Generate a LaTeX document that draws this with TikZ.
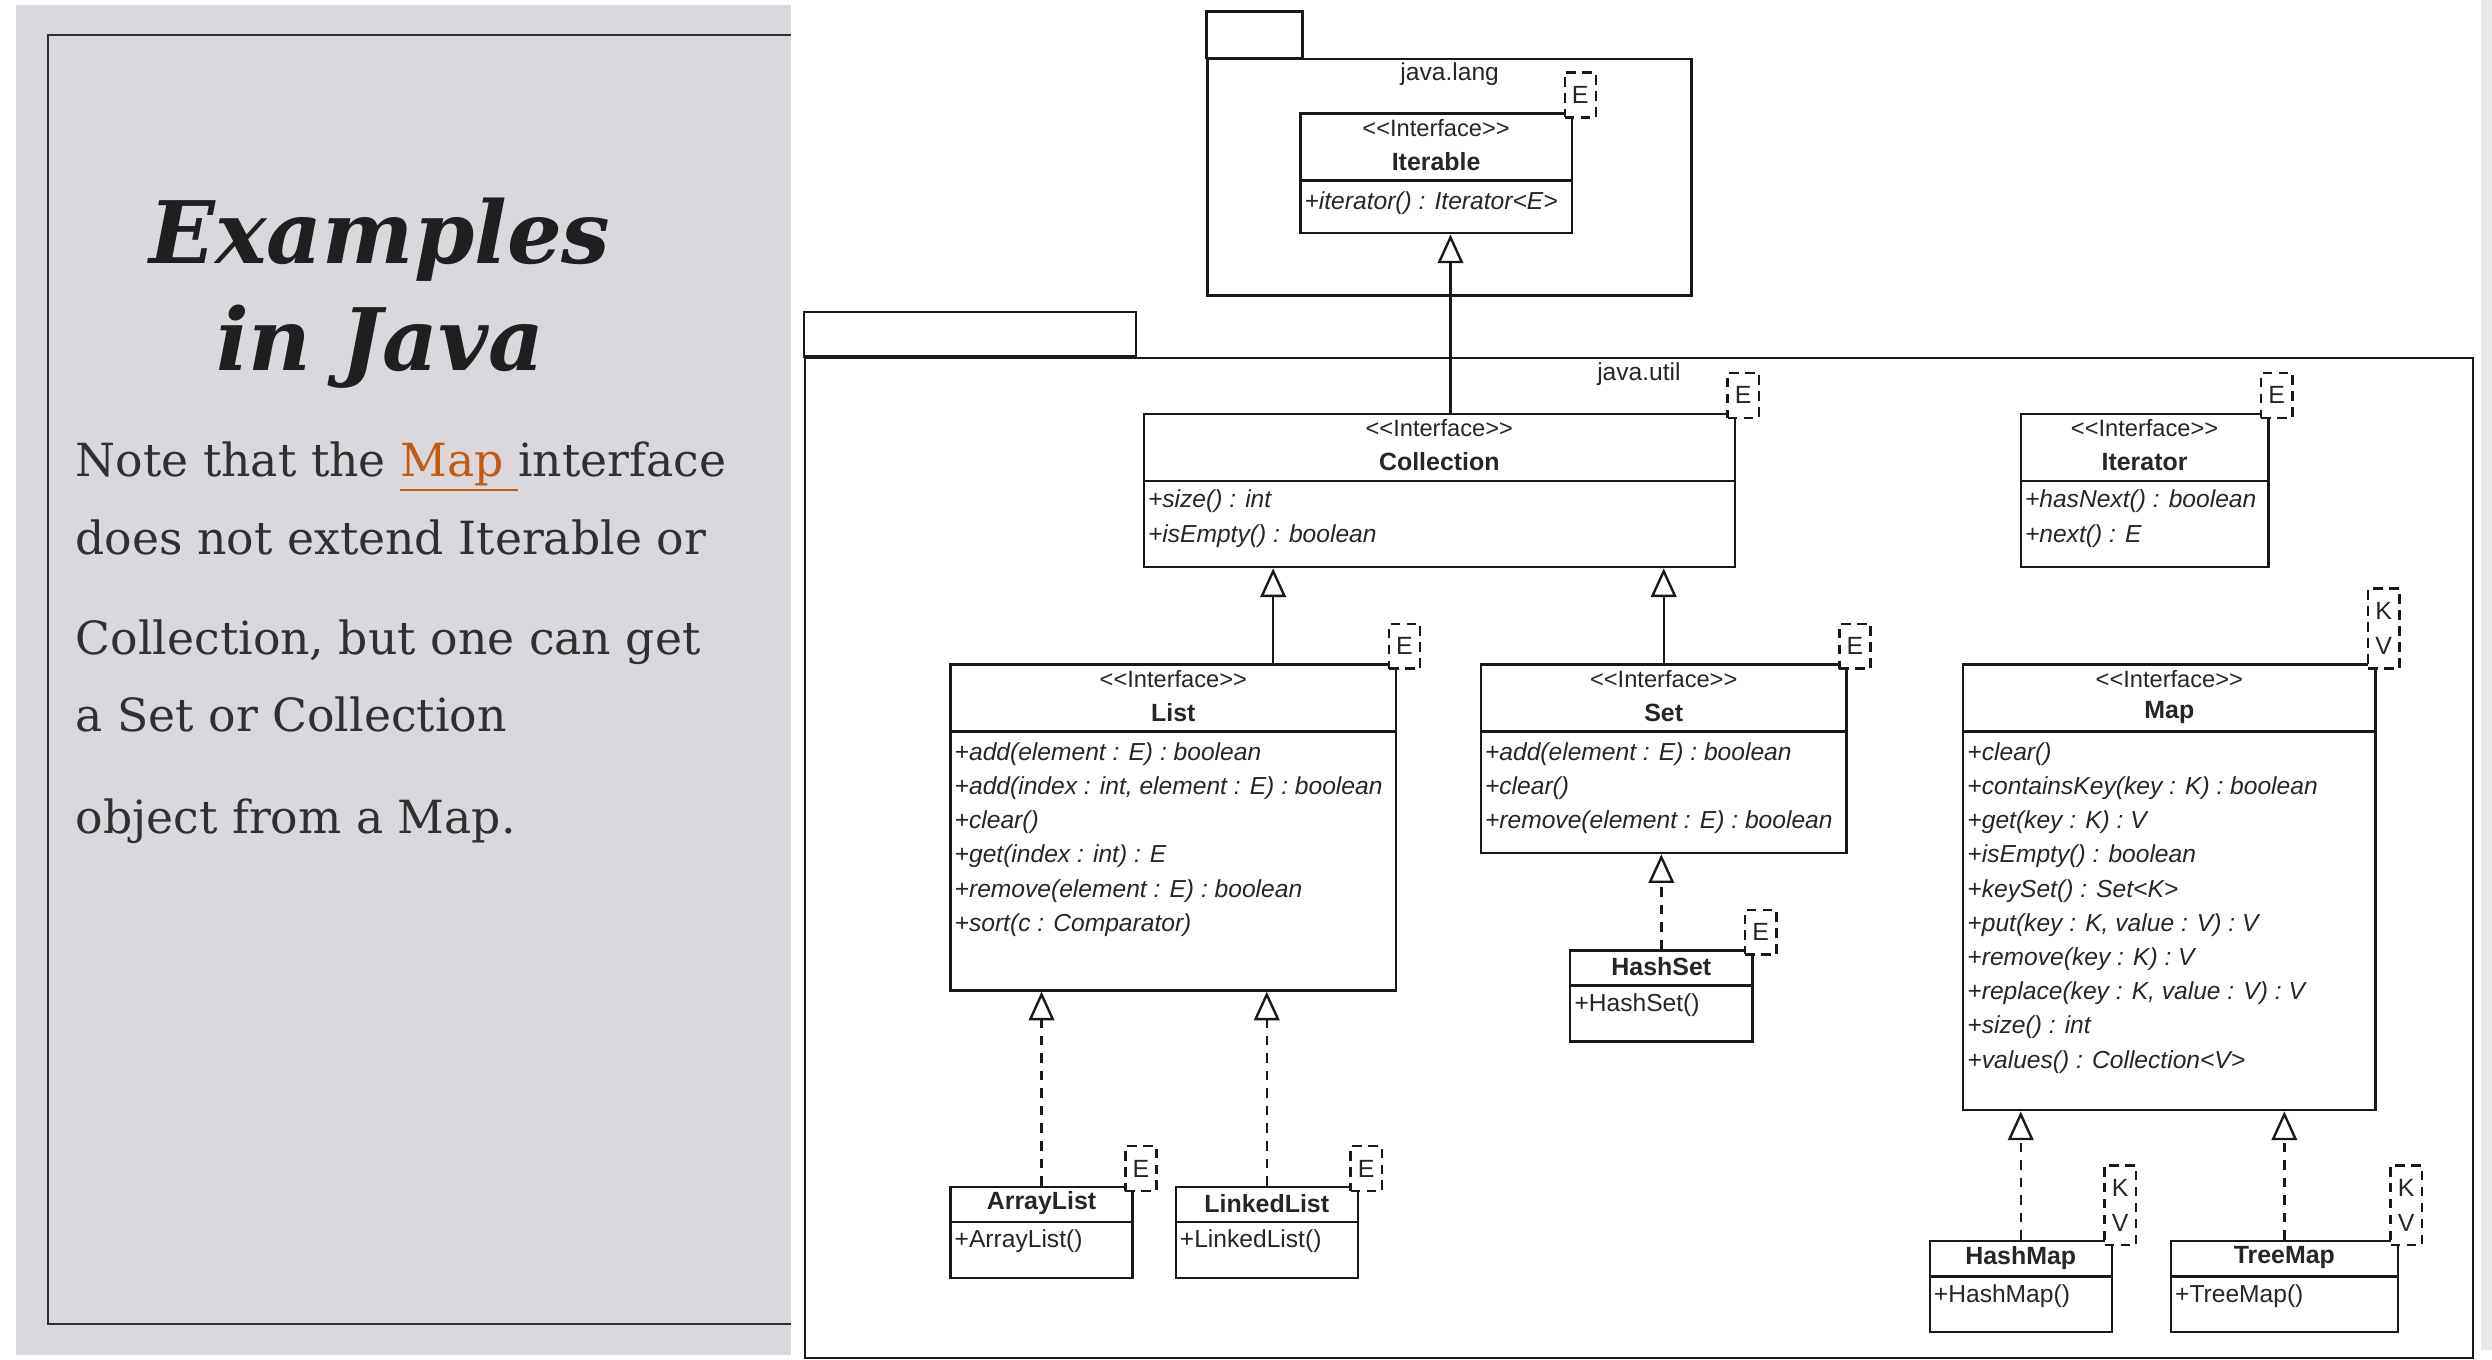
\documentclass[tikz,border=0pt]{standalone}
\usepackage{fontspec}
\setmainfont{DejaVu Serif}
\newfontfamily\umlfont{Liberation Sans}
\usepackage{xcolor}
\usetikzlibrary{
  arrows.meta,
  fit,
  calc,
  positioning}

\definecolor{panelgray}{RGB}{218,216,221}
\definecolor{inkgray}{RGB}{48,48,48}
\definecolor{maporange}{RGB}{197,90,17}

\newcommand\stereo{\textless\textless Interface\textgreater\textgreater}

\tikzset{
  uml/.style={inner sep=0pt, text=black!85, font=\umlfont\fontsize{7.7}{9}\selectfont},
  classline/.style={line width=0.75pt, black!90},
  classbox/.style={classline, draw, fill=white, inner sep=0pt},
  stereotype/.style={uml, font=\umlfont\fontsize{7.4}{9}\selectfont},
  cname/.style={uml, font=\umlfont\bfseries\fontsize{7.8}{9}\selectfont},
  meth/.style={uml, anchor=west, font=\umlfont\itshape\fontsize{7.7}{9}\selectfont},
  ctor/.style={uml, anchor=west},
  tparam/.style={classbox, dash pattern=on 3pt off 2pt, anchor=south west,
    uml, align=center, minimum width=9.75pt, minimum height=14pt,
    font=\umlfont\fontsize{7.8}{11}\selectfont},
  inherit/.style={classline, -{Triangle[open, width=8pt, length=9pt]}},
  realize/.style={inherit, dash pattern=on 3pt off 2.5pt},
  title/.style={inner sep=0pt, text=black!88, font=\bfseries\itshape\fontsize{27}{30}\selectfont},
  note/.style={inner sep=0pt, anchor=base west, text=inkgray, font=\fontsize{14.3}{17}\selectfont}
}

% interface box: node, title, x1, y1, x2, y2
\newcommand\umliface[6]{%
  \node[classbox, fit={(#3,#4) (#5,#6)}] (#1) {};
  \draw[classline] (#3,#4+42) -- (#5,#4+42);
  \node[stereotype] (#1s) at ($(#1.north)+(0,10)$) {\stereo};
  \node[cname] (#1n) at ($(#1.north)+(0,31)$) {#2};}

% operations: node, divider y, list
\newcommand\umlops[3]{%
  \foreach \m [count=\i from 0] in {#3}
    \node[meth] (#1m\i) at ($(#1.west |- 0,#2)+(3,14+21.4*\i)$) {\m};}

% class box: node, title, constructor, x1, y1, x2, y2
\newcommand\umlclass[7]{%
  \node[classbox, fit={(#4,#5) (#6,#7)}] (#1) {};
  \draw[classline] (#4,#5+22) -- (#6,#5+22);
  \node[cname] (#1n) at ($(#1.north)+(0,11)$) {#2};
  \node[ctor] (#1c) at ($(#1.north west)+(3,35)$) {#3};}

% template parameter box
\newcommand\tparam[4][]{%
  \node[tparam, #1] (#2) at ([xshift=-3pt, yshift=-2pt]#3.north east) {#4};}

\begin{document}
\begin{tikzpicture}[x=0.5pt, y=-0.5pt]
\useasboundingbox (0,0) rectangle (1560,851.35);
\fill[white] (0,0) rectangle (1560,851.35);
\fill[black!9] (1553,0) rectangle (1560,845);

% slide panel
\fill[panelgray] (10,3) rectangle (495,848);
\draw[inkgray, line width=0.5pt] (495,22) -- (30,22) -- (30,829) -- (495,829);
\node[title, anchor=base] (titleA) at (238,165) {Examples};
\node[title, anchor=base] (titleB) at (238,232) {in Java};
\foreach \by/\bline [count=\k] in {
  298/{Note that the {\color{maporange}\underline{Map }}interface},
  347/{does not extend Iterable or},
  410/{Collection, but one can get},
  458/{a Set or Collection},
  522/{object from a Map.}}
  \node[note] (note\k) at (47,\by) {\bline};

% packages
\node[classbox, fill=none, fit={(756,37) (1059,185)}] (javalang) {};
\draw[classline] (javalang.north west) rectangle ++(60,-29);
\node[uml] (javalangL) at ($(javalang.north)+(0,10)$) {java.lang};
\node[classbox, fill=none, fit={(504,224) (1548,850)}] (javautil) {};
\draw[classline] (javautil.north west) rectangle ++(208,-28);
\node[uml] (javautilL) at ($(javautil.north)+(0,11)$) {java.util};

% interfaces
\umliface{iterable}{Iterable}{814}{71}{984}{146}
\umlops{iterable}{113}{{+iterator() : Iterator\textless E\textgreater}}
\umliface{collection}{Collection}{716}{259}{1086}{355}
\umlops{collection}{300}{+size() : int, +isEmpty() : boolean}
\umliface{iterator}{Iterator}{1265}{259}{1420}{355}
\umlops{iterator}{300}{+hasNext() : boolean, +next() : E}
\umliface{list}{List}{595}{416}{874}{620}
\umlops{list}{458}{+add(element : E) : boolean, {+add(index : int, element : E) : boolean},
  +clear(), +get(index : int) : E, +remove(element : E) : boolean, +sort(c : Comparator)}
\umliface{set}{Set}{927}{416}{1156}{534}
\umlops{set}{458}{+add(element : E) : boolean, +clear(), +remove(element : E) : boolean}
\umliface{map}{Map}{1229}{416}{1487}{695}
\umlops{map}{458}{+clear(), +containsKey(key : K) : boolean, +get(key : K) : V,
  +isEmpty() : boolean, +keySet() : Set\textless K\textgreater, {+put(key : K, value : V) : V},
  +remove(key : K) : V, {+replace(key : K, value : V) : V}, +size() : int,
  +values() : Collection\textless V\textgreater}

% classes
\umlclass{arraylist}{ArrayList}{+ArrayList()}{595}{743}{709}{800}
\umlclass{linkedlist}{LinkedList}{+LinkedList()}{736}{743}{850}{800}
\umlclass{hashset}{HashSet}{+HashSet()}{983}{595}{1097}{652}
\umlclass{hashmap}{HashMap}{+HashMap()}{1208}{777}{1322}{834}
\umlclass{treemap}{TreeMap}{+TreeMap()}{1359}{777}{1501}{834}

% generalization and realization
\draw[inherit] (collection.north -| 908,0) -- (iterable.south -| 908,0);
\draw[inherit] (list.north -| 797,0) -- (collection.south -| 797,0);
\draw[inherit] (set.north) -- (set.north |- collection.south);
\draw[realize] (arraylist.north) -- (arraylist.north |- list.south);
\draw[realize] (linkedlist.north) -- (linkedlist.north |- list.south);
\draw[realize] (hashset.north) -- (hashset.north |- set.south);
\draw[realize] (hashmap.north) -- (hashmap.north |- map.south);
\draw[realize] (treemap.north) -- (treemap.north |- map.south);

% type parameters
\tparam{iterableT}{iterable}{E}
\tparam{collectionT}{collection}{E}
\tparam{iteratorT}{iterator}{E}
\tparam{listT}{list}{E}
\tparam{setT}{set}{E}
\tparam[minimum height=25pt]{mapT}{map}{K\\V}
\tparam{arraylistT}{arraylist}{E}
\tparam{linkedlistT}{linkedlist}{E}
\tparam{hashsetT}{hashset}{E}
\tparam[minimum height=25pt]{hashmapT}{hashmap}{K\\V}
\tparam[minimum height=25pt]{treemapT}{treemap}{K\\V}
\end{tikzpicture}
\end{document}
